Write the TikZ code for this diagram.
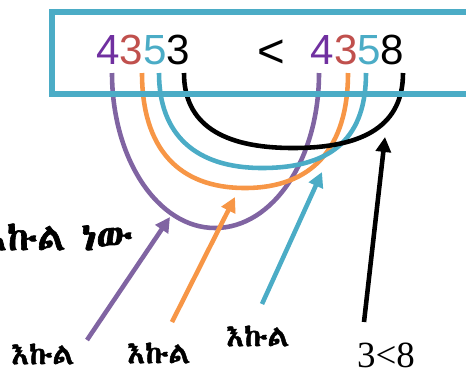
\documentclass[tikz,border=0pt]{standalone}
\usepackage{fontspec}
\setmainfont{Liberation Sans}
\newfontfamily\numserif{Liberation Serif}
\newfontfamily\ethfont[AutoFakeBold=1.6]{Abyssinica SIL}
\usepackage{tikz}
\usetikzlibrary{
  arrows.meta,
  positioning,
}
\definecolor{boxblue}{RGB}{75,172,198}
\definecolor{digpurple}{RGB}{112,48,160}
\definecolor{digred}{RGB}{192,80,77}
\definecolor{linkpurple}{RGB}{128,100,162}
\definecolor{linkorange}{RGB}{247,150,70}

\begin{document}
\begin{tikzpicture}[
  x=0.02cm, y=-0.02cm,
  digits/.style={font=\fontsize{24}{28}\selectfont, anchor=base, inner sep=0pt},
  link/.style={line width=2.6pt},
  hint/.style={line width=2.6pt, -{Triangle[length=8.5pt,width=8.5pt]}},
  amh/.style={font=\ethfont\bfseries\fontsize{17}{20}\selectfont, inner sep=0pt},
]
  % Page: 466 x 373 px, y going down
  \clip (0,0) rectangle (466,373);

  % Digit links (drawn below the frame)
  \draw[link, linkpurple] (112,73) .. controls (112,159) and (158,228) .. (215,228)
    coordinate (botP) .. controls (273,228) and (319,159) .. (319,73);
  \draw[link, linkorange] (142,73) .. controls (142,148) and (178,188) .. (245,188)
    coordinate (botO) .. controls (312,188) and (348,148) .. (348,73);
  \draw[link, boxblue] (159,73) .. controls (159,135) and (196,168) .. (262,168)
    coordinate (botB) .. controls (335,168) and (366,135) .. (366,73);
  \draw[link, black] (184,73) .. controls (184,124) and (222,148) .. (293,148)
    coordinate (botK) .. controls (366,148) and (403,124) .. (403,73);

  % Frame round the comparison
  \draw[boxblue, line width=3pt] (52,12) rectangle (490,94);

  % The two numbers
  \node[digits] (lhs) at (143,64)
    {\textcolor{digpurple}{4}\textcolor{digred}{3}\textcolor{boxblue}{5}3};
  \node[digits, font=\fontsize{27}{30}\selectfont] (less) at (271,67) {<};
  \node[digits] (rhs) at (357.5,64)
    {\textcolor{digpurple}{4}\textcolor{digred}{3}\textcolor{boxblue}{5}8};

  % Labels
  \node[amh, font=\ethfont\bfseries\fontsize{22}{26}\selectfont, anchor=east]
    (eqall) at (133,237) {እኩል\hspace{-0.05em} ነው};
  \node[amh] (eqone) at (43,354) {እኩል};
  \node[amh] (eqtwo) at (159,353) {እኩል};
  \node[amh] (eqthree) at (258,336) {እኩል};
  \node[font=\numserif\fontsize{21}{25}\selectfont, inner sep=0pt] (last) at (386,355) {3<8};

  % Pointers
  \coordinate (tailP) at (87,340);
  \coordinate (tipP) at (170,217);
  \coordinate (tailO) at (172,322);
  \coordinate (tipO) at (235,197);
  \coordinate (tailB) at (262,304);
  \coordinate (tipB) at (322,172);
  \coordinate (tailK) at (364,322);
  \coordinate (tipK) at (385,137);
  \draw[hint, linkpurple] (tailP) -- (tipP);
  \draw[hint, linkorange] (tailO) -- (tipO);
  \draw[hint, boxblue] (tailB) -- (tipB);
  \draw[hint, black] (tailK) -- (tipK);

\end{tikzpicture}
\end{document}
